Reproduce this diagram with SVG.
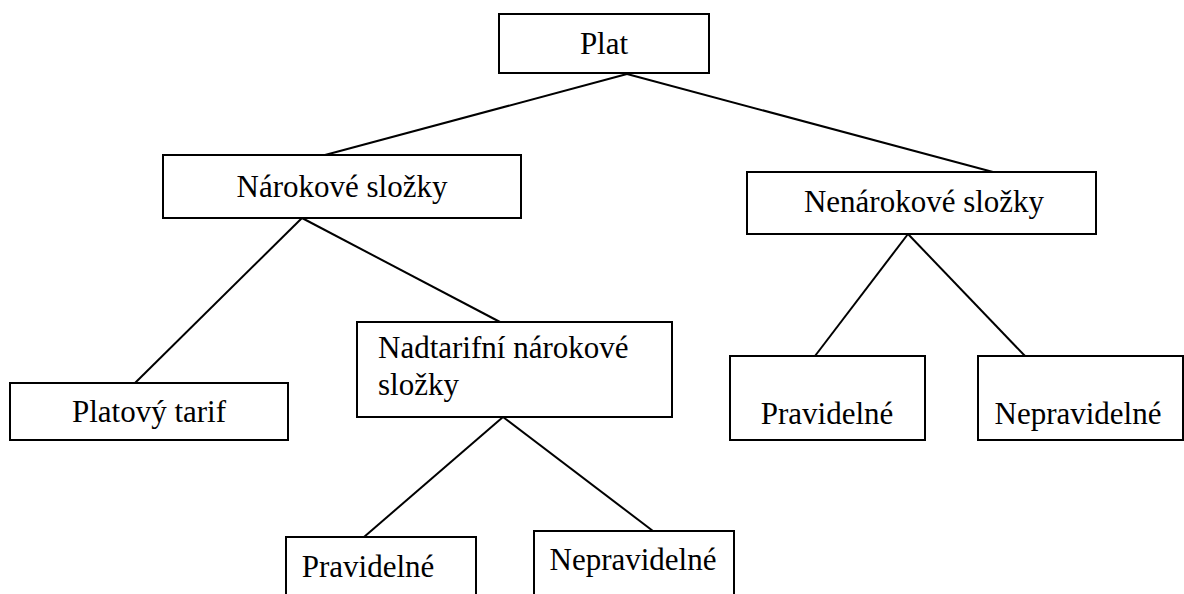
<svg xmlns="http://www.w3.org/2000/svg" width="1184" height="594" viewBox="0 0 1184 594">
<style>
  .box { fill: #ffffff; stroke: #000000; stroke-width: 2; }
  .lbl { font-family: "Liberation Serif", "Times New Roman", serif; font-size: 31px; fill: #000000; }
  .mid { text-anchor: middle; }
  .conn line { stroke: #000000; stroke-width: 2; }
</style>
<rect width="1184" height="594" fill="#ffffff"/>
<g id="connectors" class="conn">
  <line x1="627" y1="74" x2="325" y2="155"/>
  <line x1="627" y1="74" x2="993" y2="172"/>
  <line x1="302" y1="218" x2="135" y2="383"/>
  <line x1="302" y1="218" x2="500" y2="322"/>
  <line x1="908" y1="234" x2="815" y2="356"/>
  <line x1="908" y1="234" x2="1025" y2="356"/>
  <line x1="503" y1="417" x2="364" y2="537"/>
  <line x1="503" y1="417" x2="653" y2="531"/>
</g>
<g id="plat">
  <rect class="box" x="499" y="14" width="210" height="59"/>
  <text class="lbl mid" x="604" y="54">Plat</text>
</g>
<g id="narokove">
  <rect class="box" x="163" y="155" width="358" height="63"/>
  <text class="lbl mid" x="342" y="197">Nárokové složky</text>
</g>
<g id="nenarokove">
  <rect class="box" x="747" y="172" width="349" height="62"/>
  <text class="lbl mid" x="924" y="212">Nenárokové složky</text>
</g>
<g id="platovy-tarif">
  <rect class="box" x="10" y="383" width="278" height="57"/>
  <text class="lbl mid" x="149" y="422">Platový tarif</text>
</g>
<g id="nadtarifni">
  <rect class="box" x="357" y="322" width="315" height="95"/>
  <text class="lbl" x="378" y="358">Nadtarifní nárokové</text>
  <text class="lbl" x="378" y="395">složky</text>
</g>
<g id="pravidelne-1">
  <rect class="box" x="730" y="356" width="195" height="84"/>
  <text class="lbl mid" x="827" y="424">Pravidelné</text>
</g>
<g id="nepravidelne-1">
  <rect class="box" x="978" y="356" width="205" height="84"/>
  <text class="lbl mid" x="1078" y="424">Nepravidelné</text>
</g>
<g id="pravidelne-2">
  <rect class="box" x="286" y="537" width="190" height="70"/>
  <text class="lbl mid" x="368" y="577">Pravidelné</text>
</g>
<g id="nepravidelne-2">
  <rect class="box" x="534" y="531" width="200" height="70"/>
  <text class="lbl mid" x="633" y="570">Nepravidelné</text>
</g>
</svg>
